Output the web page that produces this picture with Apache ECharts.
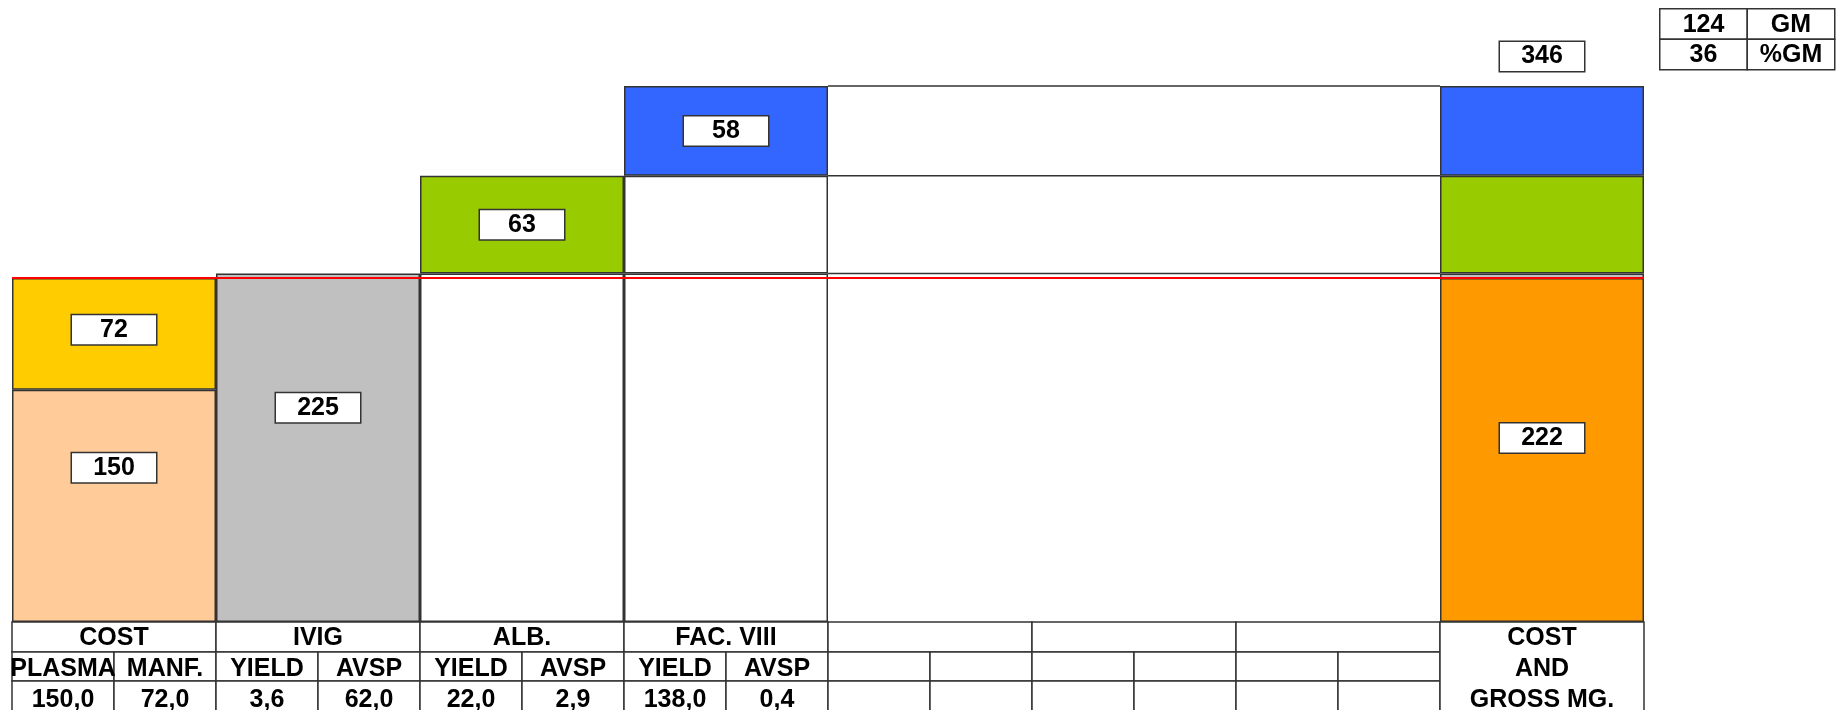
<!DOCTYPE html>
<html lang="en">

<head>
  <meta charset="UTF-8">
  <title>Cost and gross margin</title>
  <style>
    html,
    body {
      margin: 0;
      padding: 0;
      overflow: hidden;
      background: #fff;
    }

    #chart {
      width: 1839px;
      height: 710px;
    }
  </style>
</head>

<body>
  <div id="chart"></div>
</body>
<script src="https://cdn.jsdelivr.net/npm/echarts@6.0.0/dist/echarts.min.js"></script>
<script>
  // cost side
  const costNames = ['PLASMA', 'MANF.'];
  const costValues = [150, 72];
  const costColors = ['#FFCC99', '#FFCC00'];
  const totalColor = '#FF9900';

  // revenue per product
  const productNames = ['IVIG', 'ALB.', 'FAC. VIII'];
  const productValues = [225, 63, 58];
  const productColors = ['#C0C0C0', '#99CC00', '#3366FF'];

  // yield and average selling price under each product
  const yieldValues = [3.6, 22.0, 138.0];
  const avspValues = [62.0, 2.9, 0.4];

  const spacerNames = ['sp1', 'sp2', 'sp3'];
  const totalTitle = 'COST\nAND\nGROSS MG.';
  const gmNames = ['GM', '%GM'];

  const LINE = '#333';
  const FONT = 'bold 25px "Liberation Sans", Arial, sans-serif';

  const totalCost = costValues.reduce((a, b) => a + b, 0);
  const totalRevenue = productValues.reduce((a, b) => a + b, 0);
  const gm = totalRevenue - totalCost;
  const gmPct = Math.round(gm / totalRevenue * 100);

  const columns = ['COST', ...productNames, ...spacerNames, 'TOTAL'];
  const totalIndex = columns.length - 1;
  const firstSpacer = 1 + productNames.length;
  const lastSpacer = firstSpacer + spacerNames.length - 1;

  const fmt = v => v.toFixed(1).replace('.', ',');
  const headers = ['COST', ...productNames, ...spacerNames.map(() => ''), totalTitle];
  const subHeads = [costNames, ...productNames.map(() => ['YIELD', 'AVSP']), ...spacerNames.map(() => ['', ''])];
  const subValues = [costValues.map(fmt), ...yieldValues.map((y, k) => [fmt(y), fmt(avspValues[k])]), ...spacerNames.map(() => ['', ''])];

  // cumulative revenue levels, carried across the blank columns
  const levels = [];
  productValues.reduce((acc, v) => { levels.push(acc + v); return acc + v; }, 0);

  const boxLabel = {
    show: true,
    position: 'inside',
    color: '#000',
    fontFamily: '"Liberation Sans", Arial, sans-serif',
    fontWeight: 'bold',
    fontSize: 25,
    backgroundColor: '#fff',
    borderColor: LINE,
    borderWidth: 1.5,
    width: 84,
    height: 29,
    lineHeight: 29,
    align: 'center'
  };
  const border = { borderColor: LINE, borderWidth: 1.5 };
  const labelLift = { PLASMA: -38, 'MANF.': -4, IVIG: -40, TOTAL: -12 };

  const empty = () => columns.map(() => '-');

  const costSeries = costNames.map((name, k) => {
    const data = empty();
    data[0] = costValues[k];
    return {
      name, type: 'bar', stack: 'cost', data,
      itemStyle: Object.assign({ color: costColors[k] }, border),
      label: Object.assign({}, boxLabel, { offset: [0, labelLift[name] || 0] })
    };
  });

  const totalData = empty();
  totalData[totalIndex] = totalCost;
  costSeries.push({
    name: 'TOTAL', type: 'bar', stack: 'cost', data: totalData,
    itemStyle: Object.assign({ color: totalColor }, border),
    label: Object.assign({}, boxLabel, { offset: [0, labelLift.TOTAL] }),
    markLine: {
      silent: true,
      symbol: 'none',
      label: { show: false },
      lineStyle: { color: '#FF0000', width: 2, type: 'solid' },
      data: [{ yAxis: totalCost }]
    }
  });

  const productSeries = productNames.map((name, k) => {
    const own = k + 1;
    const data = columns.map((c, i) => {
      if (i === own) return { value: productValues[k] };
      if (i > own && i <= productNames.length) {
        return { value: productValues[k], itemStyle: { color: 'rgba(0,0,0,0)' }, label: { show: false } };
      }
      if (i === totalIndex) {
        if (k === productNames.length - 1) {
          return { value: productValues[k], label: { position: 'top', distance: 15, offset: [0, 0], formatter: String(totalRevenue) } };
        }
        return { value: productValues[k], label: { show: false } };
      }
      return '-';
    });
    return {
      name, type: 'bar', stack: 'rev', data,
      itemStyle: Object.assign({ color: productColors[k] }, border),
      label: Object.assign({}, boxLabel, { offset: [0, labelLift[name] || 0] })
    };
  });

  // horizontal level lines across the blank columns
  function renderBridge(params, api) {
    const a = api.coord([api.value(0), api.value(2)]);
    const b = api.coord([api.value(1), api.value(2)]);
    const w = api.size([1, 0])[0];
    return {
      type: 'line',
      shape: { x1: a[0] - w / 2, y1: a[1], x2: b[0] + w / 2, y2: b[1] },
      style: { stroke: LINE, lineWidth: 1.5 }
    };
  }

  // table under the bars, one column per category
  function renderTable(params, api) {
    const i = api.value(0);
    const p = api.coord([i, 0]);
    const w = api.size([1, 0])[0];
    const x = p[0] - w / 2;
    const y = p[1];
    const rows = [30, 29, 50];
    const cell = (cx, cy, cw, ch) => ({
      type: 'rect', shape: { x: cx, y: cy, width: cw, height: ch },
      style: { fill: '#fff', stroke: LINE, lineWidth: 1.5 }
    });
    const text = (t, tx, ty) => ({
      type: 'text',
      style: { text: t, x: tx, y: ty, fill: '#000', font: FONT, align: 'center', verticalAlign: 'middle' }
    });
    const children = [];
    if (i === totalIndex) {
      children.push(cell(x, y, w, rows[0] + rows[1] + rows[2]));
      children.push({
        type: 'text',
        style: {
          text: headers[i], x: x + w / 2, y: y + 1, fill: '#000', font: FONT,
          align: 'center', verticalAlign: 'top', lineHeight: 31
        }
      });
      return { type: 'group', children };
    }
    const half = w / 2;
    children.push(cell(x, y, w, rows[0]));
    children.push(cell(x, y + rows[0], half, rows[1]));
    children.push(cell(x + half, y + rows[0], half, rows[1]));
    children.push(cell(x, y + rows[0] + rows[1], half, rows[2]));
    children.push(cell(x + half, y + rows[0] + rows[1], half, rows[2]));
    children.push(text(headers[i], x + half, y + 16));
    children.push(text(subHeads[i][0], x + half / 2, y + 47));
    children.push(text(subHeads[i][1], x + half * 1.5, y + 47));
    children.push(text(subValues[i][0], x + half / 2, y + 78));
    children.push(text(subValues[i][1], x + half * 1.5, y + 78));
    return { type: 'group', children };
  }

  // small GM box in the top right corner
  const gmRows = [[String(gm), gmNames[0]], [String(gmPct), gmNames[1]]];
  const gmChildren = [];
  gmRows.forEach((r, ri) => {
    r.forEach((t, ci) => {
      gmChildren.push({
        type: 'rect', shape: { x: ci * 87.5, y: ri * 30.5, width: 87.5, height: 30.5 },
        style: { fill: '#fff', stroke: LINE, lineWidth: 1.5 }
      });
      gmChildren.push({
        type: 'text',
        style: { text: t, x: ci * 87.5 + 43.75, y: ri * 30.5 + 16, fill: '#000', font: FONT, align: 'center', verticalAlign: 'middle' }
      });
    });
  });

  const chart = echarts.init(document.getElementById('chart'));

  const option = {
    animation: false,
    grid: { left: 12, right: 195, top: 86, bottom: 88 },
    xAxis: { type: 'category', data: columns, show: false },
    yAxis: { type: 'value', min: 0, max: totalRevenue, show: false },
    series: [
      {
        type: 'custom', name: 'table', silent: true, clip: false,
        renderItem: renderTable,
        encode: { x: 0, y: 1 },
        data: columns.map((c, i) => [i, 0])
      },
      {
        type: 'custom', name: 'bridge', silent: true,
        renderItem: renderBridge,
        encode: { x: [0, 1], y: 2 },
        data: levels.map(v => [firstSpacer, lastSpacer, v])
      },
      ...productSeries,
      ...costSeries
    ].map(s => s.type === 'bar' ? Object.assign(s, { barCategoryGap: '0%', barGap: '-100%' }) : s),
    graphic: [{ type: 'group', left: 1659, top: 8, children: gmChildren }]
  };

  chart.setOption(option);
</script>

</html>
